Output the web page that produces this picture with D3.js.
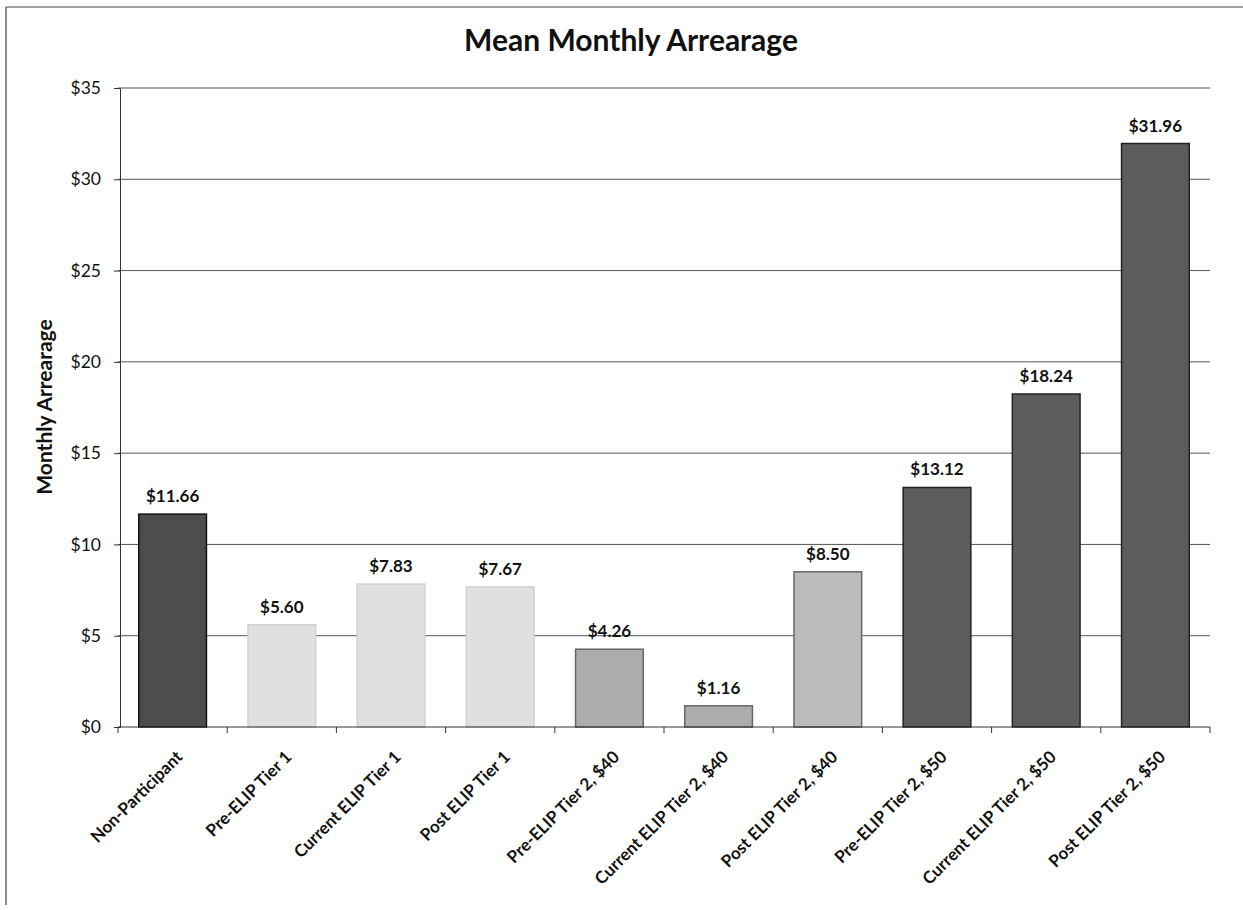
<!DOCTYPE html>
<html><head><meta charset="utf-8">
<script src="https://cdn.jsdelivr.net/npm/d3@7"></script>
<style>body{margin:0;background:#fff}svg{display:block}</style>
</head><body>
<script>
const categories = ["Non-Participant","Pre-ELIP Tier 1","Current ELIP Tier 1","Post ELIP Tier 1","Pre-ELIP Tier 2, $40","Current ELIP Tier 2, $40","Post ELIP Tier 2, $40","Pre-ELIP Tier 2, $50","Current ELIP Tier 2, $50","Post ELIP Tier 2, $50"];
const values = [11.66, 5.60, 7.83, 7.67, 4.26, 1.16, 8.50, 13.12, 18.24, 31.96];
const groups = ["non","t1","t1","t1","t240","t240","t240b","t250","t250","t250"];
const yTicks = [0,5,10,15,20,25,30,35];
const title = "Mean Monthly Arrearage";
const yTitle = "Monthly Arrearage";

const fills = {non:"#4d4d4d", t1:"#e0e0e0", t240:"#acacac", t240b:"#bcbcbc", t250:"#5c5c5c"};
const strokes = {non:"#111", t1:"#d0d0d0", t240:"#666", t240b:"#666", t250:"#222"};

const W=1243,H=910;
const svg=d3.select("body").append("svg").attr("width",W).attr("height",H);
const font="Lato, 'Open Sans', sans-serif";

// frame
svg.append("line").attr("x1",6).attr("x2",1243).attr("y1",7).attr("y2",7).attr("stroke","#444").attr("stroke-width",1.2);
svg.append("line").attr("x1",6).attr("x2",6).attr("y1",7).attr("y2",905).attr("stroke","#444").attr("stroke-width",1.2);

const x=d3.scaleBand().domain(categories).range([118,1210]).paddingInner(0.38).paddingOuter(0.19);
const y=d3.scaleLinear().domain([0,35]).range([727,88]);

// gridlines
svg.append("g").selectAll("line").data(yTicks.filter(d=>d>0)).join("line")
  .attr("x1",118).attr("x2",1210).attr("y1",d=>y(d)).attr("y2",d=>y(d))
  .attr("stroke","#555").attr("stroke-width",1);

// bars
svg.append("g").selectAll("rect").data(values).join("rect")
  .attr("x",(d,i)=>x(categories[i])).attr("width",x.bandwidth())
  .attr("y",d=>y(d)).attr("height",d=>y(0)-y(d))
  .attr("fill",(d,i)=>fills[groups[i]]).attr("stroke",(d,i)=>strokes[groups[i]]).attr("stroke-width",1.5);

// value labels
svg.append("g").selectAll("text").data(values).join("text")
  .attr("x",(d,i)=>x(categories[i])+x.bandwidth()/2).attr("y",d=>y(d)-12)
  .attr("text-anchor","middle").attr("font-family",font).attr("font-weight","bold").attr("font-size",17).attr("fill","#111")
  .text(d=>"$"+d.toFixed(2));

// y axis
const ya=svg.append("g").attr("transform","translate(120,0)")
  .call(d3.axisLeft(y).tickValues(yTicks).tickFormat(d=>"$"+d).tickSize(6).tickPadding(13));
ya.select(".domain").attr("stroke","#333");
ya.selectAll(".tick line").attr("stroke","#333");
ya.selectAll("text").attr("font-family",font).attr("font-size",17.5).attr("fill","#111");

// x axis
const xa=svg.append("g").attr("transform","translate(0,727)");
xa.append("line").attr("x1",118).attr("x2",1210).attr("stroke","#333");
const bounds=categories.map(c=>x(c)-x.step()*x.paddingInner()/2).concat([1210]);
xa.selectAll("line.t").data(bounds).join("line").attr("class","t")
  .attr("x1",d=>d).attr("x2",d=>d).attr("y1",0).attr("y2",6).attr("stroke","#333");
xa.selectAll("text").data(categories).join("text")
  .attr("transform",c=>`translate(${x(c)+x.bandwidth()/2+11},${31}) rotate(-45)`)
  .attr("text-anchor","end").attr("font-family",font).attr("font-weight","bold").attr("font-size",17).attr("fill","#111")
  .text(c=>c);

// titles
svg.append("text").attr("x",631).attr("y",51).attr("text-anchor","middle")
  .attr("font-family",font).attr("font-weight","bold").attr("font-size",30).attr("fill","#111").text(title);
svg.append("text").attr("transform","translate(52,407) rotate(-90)").attr("text-anchor","middle")
  .attr("font-family",font).attr("font-weight","bold").attr("font-size",21).attr("fill","#111").text(yTitle);
</script>
</body></html>
